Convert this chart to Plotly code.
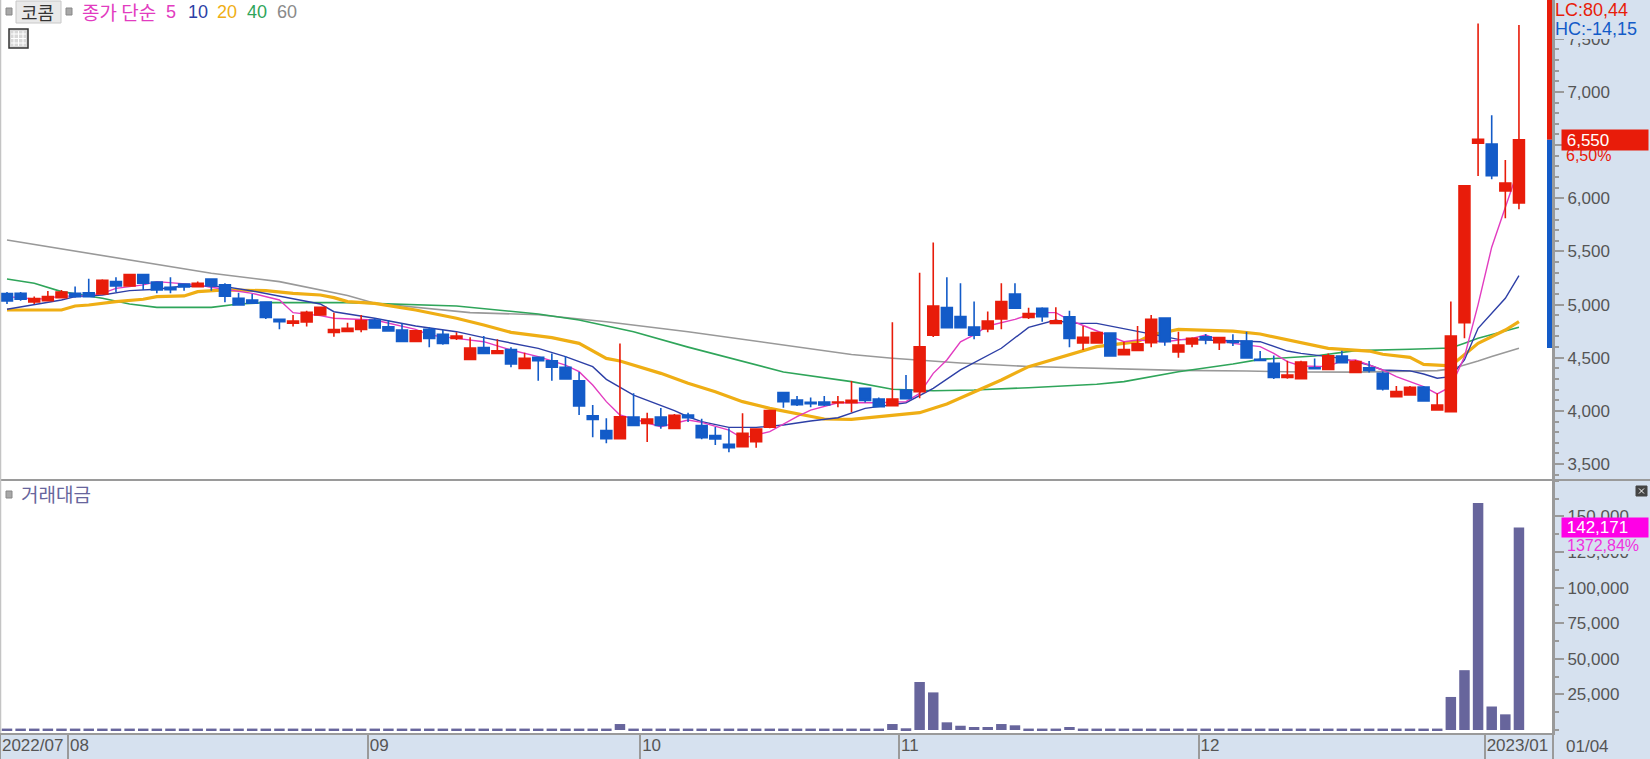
import plotly.graph_objects as go

# ---------- data ----------
opens = [5103,5106,5025,5037,5065,5106,5112,5100,5216,5175,5282,5213,5163,5194,5169,5241,5185,5059,5043,5025,4862,4824,4836,4902,4739,
         4748,4767,4855,4792,4761,4654,4767,4720,4682,4485,4595,4541,4576,4400,4504,4472,4410,4284,3955,3814,3738,3942,3883,3942,3836,
         3961,3861,3767,3686,3664,3711,3846,4172,4103,4081,4084,4078,4078,4212,4112,4049,4197,4181,4711,4971,4887,4789,4771,4865,5100,4880,
         4965,4823,4886,4638,4638,4732,4529,4569,4642,4874,4554,4629,4698,4642,4657,4657,4485,4447,4315,4303,4406,4391,4516,4362,4406,
         4354,4134,4150,4225,4009,3993,4830,6517,6510,6068,5955]
highs = [5119,5119,5075,5128,5138,5169,5244,5238,5257,5288,5288,5216,5257,5200,5216,5241,5200,5112,5100,5031,4862,4902,4943,4981,4924,
         4830,4902,4871,4855,4823,4761,4786,4761,4739,4692,4704,4673,4598,4547,4510,4541,4516,4366,4055,3930,4635,4165,3983,4027,3970,
         3983,3927,3849,3836,3978,3836,4003,4172,4140,4125,4140,4140,4281,4212,4125,4833,4338,5300,5583,5257,5200,5028,4934,5200,5200,4971,
         4974,4974,4943,4798,4745,4732,4651,4798,4902,4874,4745,4692,4723,4689,4720,4745,4563,4522,4472,4472,4494,4541,4566,4478,4469,
         4370,4235,4235,4235,4166,5028,6118,7645,6780,6360,7630]
lows = [5006,5037,5006,5031,5059,5065,5068,5094,5119,5169,5138,5106,5106,5131,5163,5131,5021,4993,5006,4865,4767,4793,4793,4899,4698,
        4748,4739,4776,4748,4654,4654,4598,4623,4667,4485,4541,4541,4410,4400,4284,4284,4297,3961,3751,3695,3738,3864,3707,3833,3836,
        3896,3733,3680,3611,3664,3654,3836,4030,4046,4034,4046,4034,3987,4078,4034,4049,4115,4118,4695,4783,4783,4673,4739,4767,4965,4865,
        4839,4823,4598,4572,4638,4516,4529,4569,4598,4613,4500,4598,4626,4572,4610,4497,4475,4300,4303,4303,4391,4384,4447,4359,4362,
        4191,4134,4150,4090,4009,3993,4683,6209,6178,5811,5896]
closes = [5034,5050,5056,5075,5119,5075,5075,5228,5175,5282,5200,5138,5141,5166,5200,5175,5078,4996,5012,4880,4840,4846,4927,4974,4764,
          4776,4849,4780,4751,4654,4754,4682,4635,4704,4591,4541,4566,4441,4494,4472,4410,4300,4046,3920,3738,3945,3864,3923,3864,3958,
          3936,3749,3736,3654,3789,3830,4003,4087,4059,4068,4056,4084,4099,4099,4040,4112,4115,4604,4987,4783,4783,4711,4846,5028,4965,4915,
          4886,4848,4682,4692,4736,4516,4576,4632,4861,4651,4620,4682,4673,4689,4645,4497,4475,4315,4337,4460,4397,4519,4453,4463,4381,
          4206,4181,4222,4093,4056,4705,6118,6554,6212,6143,6550]

volume = [1000]*112
for i, v in {45: 4200, 65: 4200, 66: 1200, 67: 33700, 68: 26400, 69: 5400, 70: 3000, 71: 2100, 72: 2100, 73: 4200, 74: 3300,
             78: 2100, 106: 23200, 107: 42000, 108: 159400, 109: 16500, 110: 11000, 111: 142171}.items():
    volume[i] = v

ma5_i = [0,2,3,4,5,7,8,10,11,13,14,15,17,18,20,21,23,24,26,27,30,31,33,35,37,39,41,42,43,44,45,47,48,50,51,53,54,56,58,59,61,64,66,67,68,69,70,71,72,74,75,76,77,78,80,82,83,85,87,88,89,90,92,93,94,95,97,98,99,101,102,104,105,106,107,108,109,110,111]
ma5 = [5075,5053,5056,5084,5075,5106,5153,5185,5216,5194,5185,5163,5128,5106,5043,4924,4896,4871,4860,4855,4767,4714,4682,4651,4573,4510,4431,4369,4243,4087,3961,3883,3851,3914,3892,3820,3742,3805,3946,4008,4077,4077,4087,4165,4353,4479,4650,4714,4799,4861,4902,4924,4924,4855,4754,4651,4667,4651,4682,4714,4667,4635,4604,4541,4463,4422,4416,4472,4478,4385,4322,4228,4159,4228,4510,5000,5540,5921,6290]

ma10_i = [0,2,4,5,7,9,11,13,16,18,21,23,24,27,30,33,35,39,41,43,44,46,49,50,51,53,55,57,59,61,63,66,68,70,73,75,77,78,80,83,86,90,92,94,95,98,100,101,103,104,105,106,107,108,110,111]
ma10 = [4956,4996,5043,5075,5090,5131,5144,5175,5169,5128,5059,5006,4933,4871,4798,4745,4689,4588,4510,4416,4297,4149,4002,3945,3899,3845,3845,3867,3905,3936,4024,4077,4212,4385,4589,4786,4855,4823,4823,4745,4673,4660,4651,4563,4541,4494,4432,4385,4376,4347,4307,4322,4479,4777,5059,5273]

ma20_i = [0,4,5,6,8,10,11,13,14,16,19,21,23,24,25,27,30,33,35,37,40,42,44,45,48,50,52,54,56,58,60,62,64,67,69,71,73,75,78,80,83,84,86,90,92,95,97,100,101,103,104,106,108,110,111]
ma20 = [4949,4949,4987,4996,5028,5050,5075,5081,5122,5138,5131,5106,5090,5065,5028,5012,4949,4871,4808,4739,4689,4635,4494,4469,4353,4260,4181,4087,4024,3977,3924,3921,3946,3983,4065,4181,4291,4416,4525,4604,4651,4714,4767,4751,4723,4642,4588,4563,4533,4504,4438,4423,4636,4761,4840]

ma40_i = [0,2,4,7,9,11,15,17,19,25,33,39,42,46,50,54,57,62,65,68,71,75,80,82,86,90,92,96,99,103,106,107,108,111]
ma40 = [5241,5200,5122,5059,5006,4974,4974,5006,5018,5018,4987,4911,4855,4745,4600,4463,4366,4275,4203,4190,4197,4218,4250,4275,4369,4441,4485,4516,4567,4580,4592,4636,4683,4787]

ma60_i = [0,5,10,15,20,25,27,34,39,44,50,57,62,65,70,75,78,82,86,91,95,99,103,105,106,107,108,109,110,111]
ma60 = [5608,5504,5401,5294,5216,5085,5012,4924,4905,4839,4745,4620,4530,4495,4450,4418,4408,4391,4381,4375,4366,4365,4370,4379,4395,4429,4470,4511,4548,4589]

month_starts = [-0.5, 4.5, 26.5, 46.5, 65.5, 87.5, 108.5]
month_labels = ["2022/07", "08", "09", "10", "11", "12", "2023/01"]

price_ticks = [3500, 4000, 4500, 5000, 5500, 6000, 6500, 7000, 7500]
price_tick_text = ["3,500", "4,000", "4,500", "5,000", "5,500", "6,000", "6,500", "7,000", "7,500"]
vol_ticks = [25000, 50000, 75000, 100000, 125000, 150000]
vol_tick_text = ["25,000", "50,000", "75,000", "100,000", "125,000", "150,000"]

last_price = 6550
range_low = 4592
last_volume = 142171

# ---------- styles ----------
W, H = 1650, 759
PLOT_R, PLOT_B, SPLIT = 1553, 733, 480
RED, BLUE = "#E81C0A", "#135BC8"
NAVY, MAGENTA, ORANGE, GREEN, GRAY = "#2D3FA6", "#E23CC0", "#EFAE14", "#2FA55A", "#999999"
PANEL = "#D6E1EF"
AXIS = "#9A9A9A"
TXT = "#555555"
NUMFONT = "Liberation Sans, sans-serif"
KRFONT = "Noto Sans CJK KR, sans-serif"
NUMSIZE = 17
XR = [-0.514, 113.5]
YR = [3350, 7865]
VR = [-2100, 175500]

def px(x):
    return x / PLOT_R
def py(y):
    return (PLOT_B - y) / PLOT_B

xs = list(range(len(closes)))
fig = go.Figure()

for idx, vals, col, w in [(ma60_i, ma60, GRAY, 1.6), (ma40_i, ma40, GREEN, 1.6), (ma20_i, ma20, ORANGE, 3.2),
                          (ma10_i, ma10, NAVY, 1.4), (ma5_i, ma5, MAGENTA, 1.4)]:
    fig.add_trace(go.Scatter(x=idx, y=vals, mode="lines", line=dict(color=col, width=w),
                             xaxis="x", yaxis="y", hoverinfo="skip", showlegend=False))

fig.add_trace(go.Candlestick(x=xs, open=opens, high=highs, low=lows, close=closes,
                             increasing=dict(line=dict(color=RED, width=1.6), fillcolor=RED),
                             decreasing=dict(line=dict(color=BLUE, width=1.6), fillcolor=BLUE),
                             whiskerwidth=0, xaxis="x3", yaxis="y3", showlegend=False))

fig.add_trace(go.Bar(x=xs, y=volume, marker=dict(color="#67659C", line=dict(width=0)),
                     xaxis="x2", yaxis="y2", showlegend=False, width=0.77))

shapes = [
    dict(type="line", xref="paper", yref="paper", x0=0, x1=W / PLOT_R, y0=py(SPLIT), y1=py(SPLIT), line=dict(color=AXIS, width=2)),
    dict(type="line", xref="paper", yref="paper", x0=px(0.5), x1=px(0.5), y0=0, y1=1, line=dict(color="#C4C4C4", width=1.5)),
    dict(type="line", xref="paper", yref="paper", x0=1, x1=1, y0=-26 / PLOT_B, y1=1, line=dict(color=AXIS, width=2)),
    dict(type="line", xref="paper", yref="y", x0=px(1549.5), x1=px(1549.5), y0=last_price, y1=YR[1], line=dict(color=RED, width=5)),
    dict(type="line", xref="paper", yref="y", x0=px(1549.5), x1=px(1549.5), y0=range_low, y1=last_price, line=dict(color=BLUE, width=5)),
]
def rect(x0, y0, x1, y1, fill, line=None, lw=1):
    shapes.append(dict(type="rect", xref="paper", yref="paper", x0=px(x0), x1=px(x1), y0=py(y1), y1=py(y0),
                       fillcolor=fill, line=dict(color=line or fill, width=lw), layer="above"))
def seg(x0, y0, x1, y1, col, lw=1):
    shapes.append(dict(type="line", xref="paper", yref="paper", x0=px(x0), x1=px(x1), y0=py(y0), y1=py(y1),
                       line=dict(color=col, width=lw), layer="above"))

rect(16, 1, 61, 23, "#E9E9E9", "#C8C8C8")
rect(6, 8, 12, 15, "#A8A8A8", "#888888")
rect(66, 8, 72, 15, "#A8A8A8", "#888888")
rect(6, 491, 12, 498, "#A8A8A8", "#888888")
rect(9, 29, 28, 48, "#D8D8D8", "#333333", 1.5)
for gx in (14, 18.5, 23):
    seg(gx, 31, gx, 46, "#FFFFFF", 1)
for gy in (34, 38.5, 43):
    seg(11, gy, 26, gy, "#FFFFFF", 1)
rect(1636, 486, 1647, 496, "#444444")
seg(1639, 488.5, 1644, 493.5, "#FFFFFF", 1)
seg(1639, 493.5, 1644, 488.5, "#FFFFFF", 1)

def note(x, y, text, color, size=NUMSIZE, font=NUMFONT, **kw):
    d = dict(xref="paper", yref="paper", x=px(x), y=py(y), text=text, showarrow=False, xanchor="left", yanchor="middle",
             font=dict(color=color, size=size, family=font), borderpad=0, borderwidth=0)
    d.update(kw)
    return d

annotations = [
    note(21, 12, "코콤", "#333333", 18, KRFONT),
    note(82, 12, "종가 단순", MAGENTA, 19, KRFONT),
    note(166, 12, "5", MAGENTA, 18),
    note(188, 12, "10", NAVY, 18),
    note(217, 12, "20", ORANGE, 18),
    note(247, 12, "40", GREEN, 18),
    note(277, 12, "60", "#8A8A8A", 18),
    note(21, 493, "거래대금", "#67659C", 19, KRFONT),
    note(1555, 10, "LC:80,44", RED, 18, bgcolor=PANEL),
    note(1555, 29, "HC:-14,15", BLUE, 18, bgcolor=PANEL),
    note(1566, 156, "6,50%", RED, 16, bgcolor=PANEL),
    note(1567, 545, "1372,84%", "#F030E0", 16, bgcolor=PANEL),
    dict(xref="paper", yref="y", x=px(1561), y=last_price, text="&nbsp;6,550", showarrow=False, xanchor="left", yanchor="middle",
         align="left", width=86, height=20, bgcolor=RED, font=dict(color="white", size=NUMSIZE, family=NUMFONT), borderpad=0),
    dict(xref="paper", yref="y2", x=px(1561), y=last_volume, text="&nbsp;142,171", showarrow=False, xanchor="left", yanchor="middle",
         align="left", width=86, height=19, bgcolor="#FF00E6", font=dict(color="white", size=NUMSIZE, family=NUMFONT), borderpad=0),
    note(1566, 746, "01/04", TXT, NUMSIZE),
]

axis_common = dict(showgrid=False, zeroline=False, showline=True, linecolor=AXIS, linewidth=2, ticks="outside",
                   tickcolor=AXIS, tickwidth=1.5, ticklen=9, side="right",
                   tickfont=dict(size=NUMSIZE, color=TXT, family=NUMFONT), tickmode="array")

fig.update_layout(
    width=W, height=H, margin=dict(l=0, r=W - PLOT_R, t=0, b=H - PLOT_B, pad=0),
    paper_bgcolor=PANEL, plot_bgcolor="white", showlegend=False, boxgap=0.2, boxgroupgap=0, bargap=0.2,
    hovermode=False, shapes=shapes, annotations=annotations,
    xaxis=dict(domain=[0, 1], range=XR, visible=False, anchor="y", fixedrange=True),
    xaxis3=dict(domain=[0, 1], range=XR, visible=False, anchor="y3", overlaying="x", rangeslider=dict(visible=False), fixedrange=True),
    xaxis2=dict(domain=[0, 1], range=XR, anchor="y2", showgrid=False, zeroline=False, showline=True, linecolor=AXIS, linewidth=2,
                ticks="outside", ticklen=26, tickcolor=AXIS, tickwidth=1.5, tickmode="array", tickvals=month_starts,
                ticktext=month_labels, ticklabelposition="outside right", ticklabelstandoff=-4,
                tickfont=dict(size=NUMSIZE, color=TXT, family=NUMFONT), fixedrange=True),
    yaxis=dict(domain=[py(SPLIT), 1], range=YR, anchor="x", tickvals=price_ticks, ticktext=price_tick_text,
               minor=dict(dtick=100, tick0=3500, ticks="outside", ticklen=4, tickcolor=AXIS, tickwidth=1.5), fixedrange=True, **axis_common),
    yaxis3=dict(domain=[py(SPLIT), 1], range=YR, anchor="x3", overlaying="y", visible=False, fixedrange=True),
    yaxis2=dict(domain=[0, py(SPLIT)], range=VR, anchor="x2", tickvals=vol_ticks, ticktext=vol_tick_text,
                minor=dict(dtick=12500, tick0=0, ticks="outside", ticklen=4, tickcolor=AXIS, tickwidth=1.5), fixedrange=True, **axis_common),
)

fig.write_html("out.html", post_script="document.body.style.margin='0';document.body.style.overflow='hidden';",
               config=dict(displayModeBar=False))
